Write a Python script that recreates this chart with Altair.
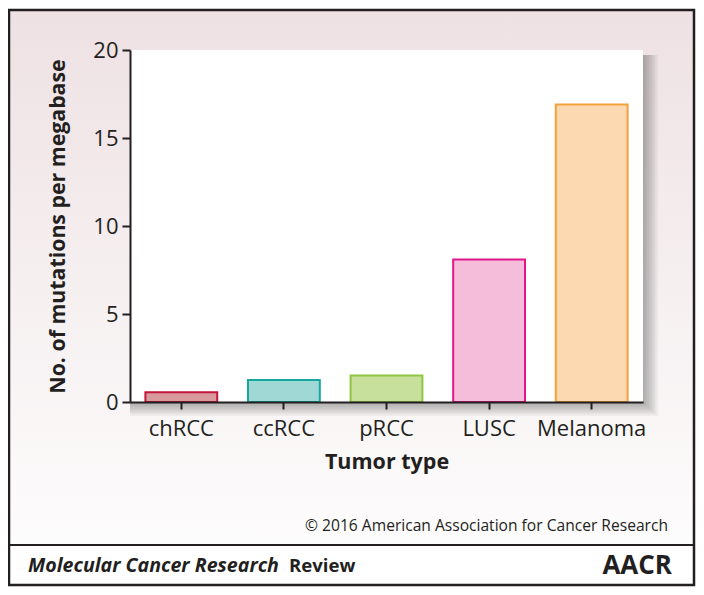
import altair as alt
import pandas as pd

categories = ["chRCC", "ccRCC", "pRCC", "LUSC", "Melanoma"]
values = [0.55, 1.25, 1.5, 8.1, 16.9]
fills = ["#d99a9e", "#9fd8d4", "#c7e09c", "#f5bdd9", "#fdd9b1"]
strokes = ["#c4163a", "#16a89e", "#8dc641", "#e0168b", "#f3a13c"]
y_ticks = [0, 5, 10, 15, 20]

FONT = "Open Sans"
TXT = "#231f20"

df = pd.DataFrame({"tumor": categories, "value": values, "fill": fills, "stroke": strokes})
one = alt.Data(values=[{"k": 1}])

W, H = 513, 352

bg = alt.Chart(one).mark_rect(
    fill=alt.Gradient(gradient="linear", x1=0, x2=0, y1=0, y2=1,
                      stops=[alt.GradientStop(color="#eee1e3", offset=0),
                             alt.GradientStop(color="#f6f0f1", offset=0.55),
                             alt.GradientStop(color="#fdfcfc", offset=1)])
).encode(x=alt.value(-121), x2=alt.value(564), y=alt.value(-40), y2=alt.value(495))

footer_bg = alt.Chart(one).mark_rect(fill="#ffffff").encode(
    x=alt.value(-121), x2=alt.value(564), y=alt.value(495), y2=alt.value(535))

shadows = []
for k in range(1, 11):
    shadows.append(
        alt.Chart(one).mark_rect(fill="#555555", opacity=0.05).encode(
            x=alt.value(0), x2=alt.value(W + k * 1.5), y=alt.value(5), y2=alt.value(H + k * 1.4))
    )

plot_bg = alt.Chart(one).mark_rect(fill="#ffffff").encode(
    x=alt.value(0), x2=alt.value(W), y=alt.value(0), y2=alt.value(H))

bars = alt.Chart(df).mark_bar(strokeWidth=2).encode(
    x=alt.X("tumor:N", sort=categories,
            scale=alt.Scale(paddingInner=0.3, paddingOuter=0.15),
            axis=alt.Axis(title="Tumor type", labelAngle=0, labelFontSize=22, labelFont=FONT,
                          labelColor=TXT, labelPadding=9, tickSize=7, tickWidth=2,
                          tickColor=TXT, domainColor=TXT, domainWidth=2,
                          titleFont=FONT, titleFontSize=21.5, titleFontWeight="bold",
                          titleColor=TXT, titlePadding=12, zindex=2)),
    y=alt.Y("value:Q", scale=alt.Scale(domain=[0, 20]),
            axis=alt.Axis(title="No. of mutations per megabase", values=y_ticks, grid=False,
                          labelFontSize=22, labelFont=FONT, labelColor=TXT, labelPadding=4,
                          tickSize=8, tickWidth=2, tickColor=TXT, domainColor=TXT, domainWidth=2,
                          titleFont=FONT, titleFontSize=21.3, titleFontWeight="bold",
                          titleColor=TXT, titlePadding=24, zindex=2)),
    fill=alt.Fill("fill:N", scale=None),
    stroke=alt.Stroke("stroke:N", scale=None),
)

copyright_t = alt.Chart(one).mark_text(
    text="© 2016 American Association for Cancer Research", align="right", baseline="alphabetic",
    font=FONT, fontSize=15.6, color=TXT
).encode(x=alt.value(538), y=alt.value(481))

sep = alt.Chart(one).mark_rule(color="#231f20", strokeWidth=2).encode(
    x=alt.value(-121), x2=alt.value(564), y=alt.value(495))

journal = alt.Chart(one).mark_text(
    text="Molecular Cancer Research", align="left", baseline="middle", font=FONT,
    fontSize=19.6, fontWeight="bold", fontStyle="italic", color=TXT
).encode(x=alt.value(-102), y=alt.value(516))

review = alt.Chart(one).mark_text(
    text="Review", align="left", baseline="middle", font=FONT,
    fontSize=18.6, fontWeight="bold", color=TXT
).encode(x=alt.value(159), y=alt.value(516))

logo = alt.Chart(one).mark_text(
    text="AACR", align="right", baseline="middle", font=FONT,
    fontSize=26, fontWeight="bold", color=TXT
).encode(x=alt.value(542), y=alt.value(516))

frame = alt.Chart(one).mark_rect(fill=None, stroke="#231f20", strokeWidth=2.5).encode(
    x=alt.value(-121), x2=alt.value(564), y=alt.value(-40), y2=alt.value(535))

chart = alt.layer(
    bg, footer_bg, *shadows, plot_bg, bars, copyright_t, sep, journal, review, logo, frame
).properties(
    width=W, height=H,
    autosize=alt.AutoSizeParams(type="none"),
    padding={"left": 122, "top": 42, "right": 53, "bottom": 185},
    background="#ffffff",
).configure_view(stroke=None, fill=None)

chart.save("out.html", embed_options={"renderer": "svg", "actions": False})
